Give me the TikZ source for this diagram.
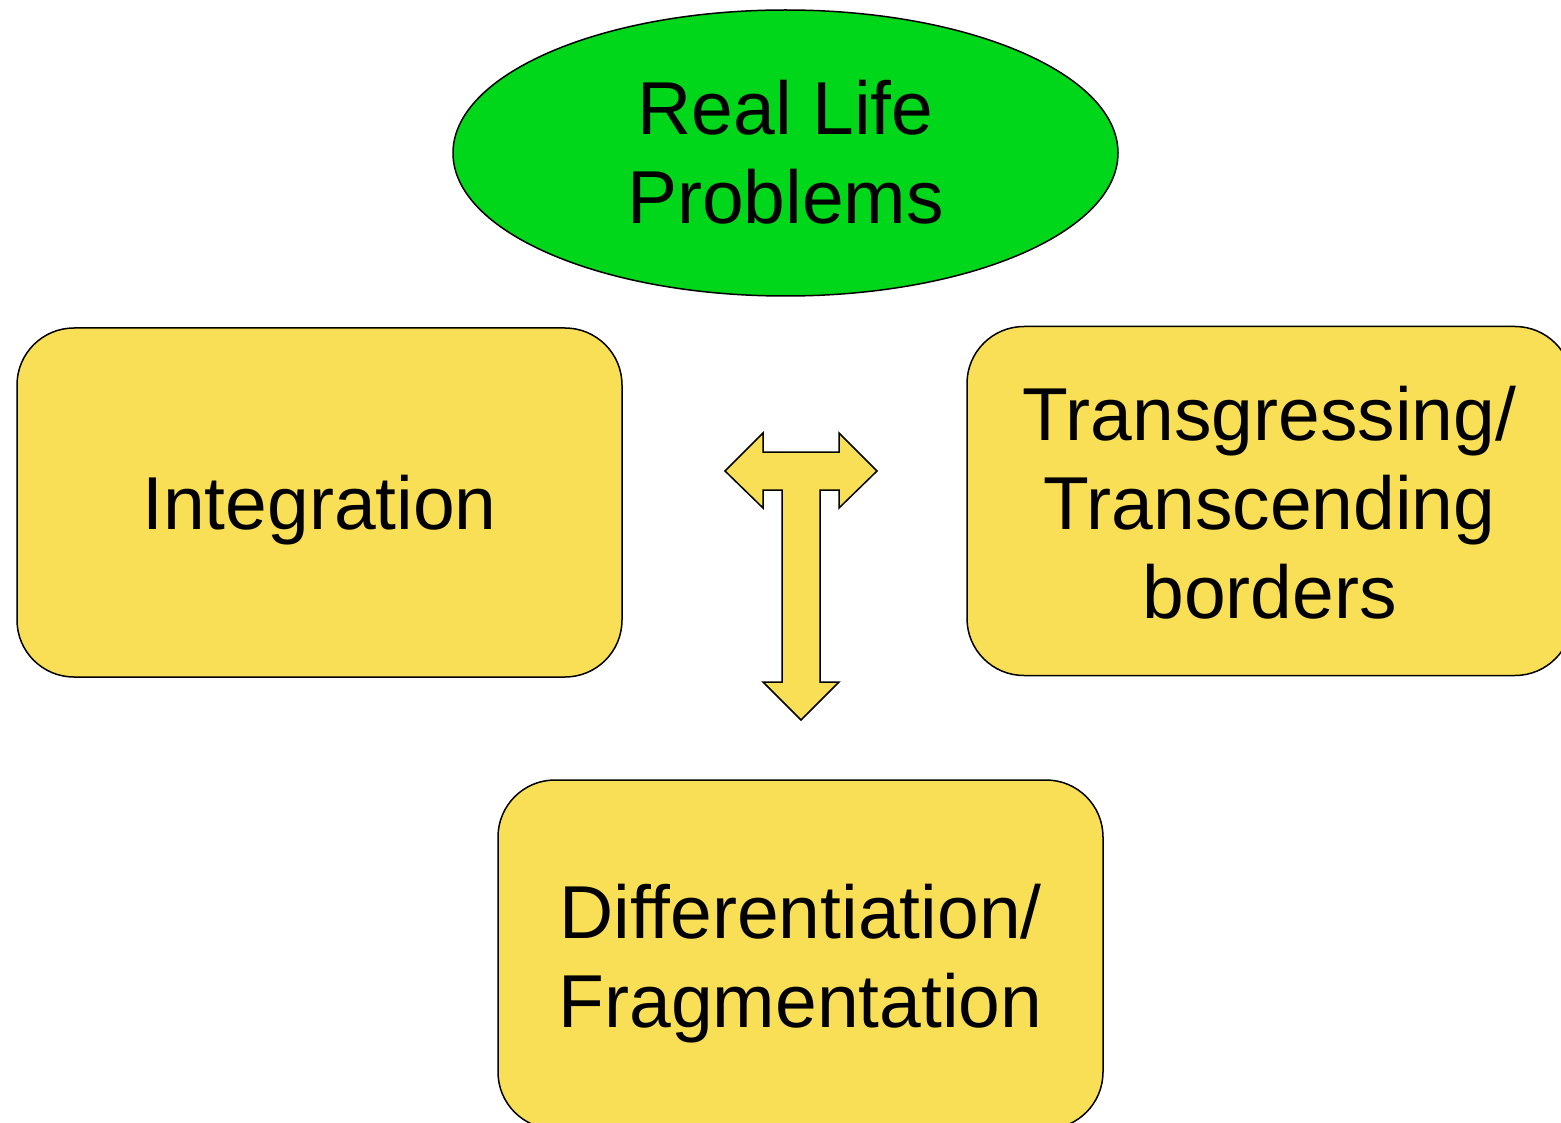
\documentclass[tikz,border=0pt]{standalone}
\usepackage{fontspec}
\setmainfont{Liberation Sans}
\usetikzlibrary{shapes.geometric}
\definecolor{boxyellow}{RGB}{249,223,86}
\definecolor{ellgreen}{RGB}{0,214,26}
\begin{document}
\begin{tikzpicture}[x=1pt,y=-1pt,
  every node/.style={font=\fontsize{75}{89}\selectfont, align=center, inner sep=0pt},
  yellowbox/.style={draw=black, line width=1.5pt, fill=boxyellow, rounded corners=57pt,
    minimum width=605pt, minimum height=349pt},
  greenell/.style={draw=black, line width=1.5pt, fill=ellgreen, ellipse,
    minimum width=665pt, minimum height=286pt}]
\useasboundingbox (0,0) rectangle (1561,1123);
\clip (0,0) rectangle (1561,1123);
\node[greenell] (real) at (785.5,153) {};
\node (realtxt) at ([yshift=1pt]real.center) {Real Life\\Problems};
\node[yellowbox] (integ) at (319.5,502.5) {};
\node (integtxt) at ([yshift=-8pt]integ.center) {Integration};
\node[yellowbox] (trans) at (1269.5,501) {};
\node (transtxt) at ([yshift=-2pt]trans.center) {Transgressing/\\Transcending\\borders};
\node[yellowbox] (diff) at (800.5,954.5) {};
\node (difftxt) at ([yshift=-9pt]diff.center) {Differentiation/\\Fragmentation};
\draw[line width=1.5pt, fill=boxyellow, line join=miter]
  (725,471) -- (763,433) -- (763,452) -- (839,452) -- (839,433) -- (877,471)
  -- (839,508) -- (839,490) -- (820,490) -- (820,682) -- (839,682) -- (801,720)
  -- (763,682) -- (782,682) -- (782,490) -- (763,490) -- (763,508) -- cycle;
\end{tikzpicture}
\end{document}
